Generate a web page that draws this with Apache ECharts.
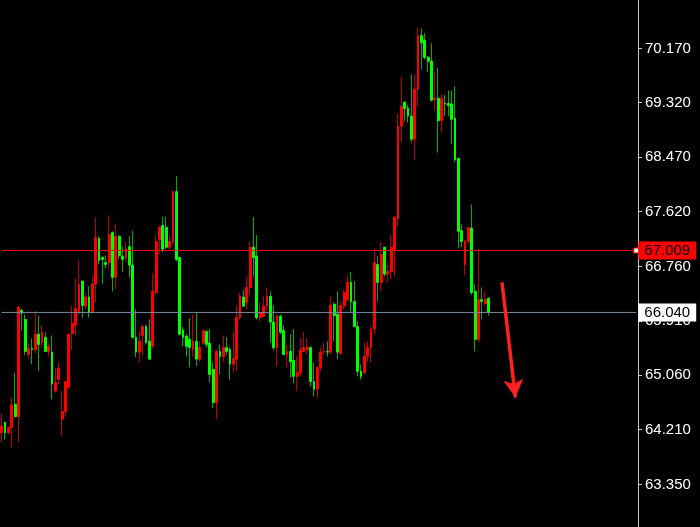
<!DOCTYPE html>
<html><head><meta charset="utf-8">
<script src="https://cdn.jsdelivr.net/npm/echarts@6/dist/echarts.min.js"></script>
<style>html,body{margin:0;padding:0;background:#000}#c{width:700px;height:527px}</style>
</head><body><div id="c"></div>
<script>
// OHLC values
const opens  = [64.16,64.32,64.16,64.24,64.60,64.41,66.07,65.93,65.38,65.48,65.46,65.70,65.57,65.65,65.43,65.42,64.81,64.99,64.37,64.49,
64.87,65.71,65.84,66.06,66.53,66.14,66.28,66.04,66.48,67.20,66.90,66.82,66.82,67.29,66.59,67.23,66.92,66.89,67.07,66.78,
65.65,65.42,65.68,65.82,65.59,65.51,66.35,67.18,67.40,67.37,67.06,67.15,67.93,66.90,65.76,65.67,65.62,65.46,65.59,65.31,
65.56,65.74,65.56,65.15,64.63,65.43,65.35,65.49,65.46,65.23,65.31,65.96,66.28,66.20,66.43,67.06,66.92,65.96,65.98,66.14,
66.29,65.89,65.49,65.98,65.76,65.38,65.43,65.29,65.04,65.10,65.43,65.46,65.49,64.96,64.84,65.18,65.42,65.43,65.42,66.17,
66.01,65.40,66.14,66.24,66.51,66.21,65.82,65.12,65.10,65.35,65.49,65.78,66.79,66.51,67.06,66.64,66.68,67.03,67.51,68.95,
69.33,69.23,69.11,68.75,69.53,70.37,70.30,70.03,69.97,69.37,69.39,69.04,69.31,69.31,69.30,69.08,68.45,67.32,66.79,67.15,
67.36,66.37,65.62,66.24,66.18,66.26];
const closes = [64.26,64.16,64.24,64.59,64.41,66.12,66.03,65.43,65.48,65.46,65.70,65.54,65.73,65.43,65.51,64.92,64.95,65.17,64.49,64.96,
65.70,65.87,66.10,66.48,66.15,66.28,66.04,66.48,67.21,66.85,66.87,66.79,67.26,66.59,67.23,66.93,66.87,67.04,66.78,65.65,
65.42,65.59,65.82,65.57,65.31,66.37,67.15,67.37,67.03,67.06,67.15,67.93,66.87,65.70,65.65,65.51,65.49,65.59,65.31,65.49,
65.76,65.54,65.07,64.63,65.43,65.35,65.49,65.43,65.23,65.32,65.96,66.29,66.14,66.43,67.06,66.90,65.96,66.04,66.14,66.29,
65.89,65.49,65.98,65.73,65.38,65.43,65.27,65.04,65.10,65.45,65.49,65.49,64.96,64.84,65.18,65.42,65.43,65.42,66.15,65.99,
65.42,66.15,66.35,66.51,66.21,65.82,65.12,65.04,65.35,65.49,65.78,66.82,66.51,66.95,66.64,66.68,67.06,67.53,68.95,69.26,
69.23,69.11,68.75,69.53,70.37,70.26,70.03,69.97,69.36,69.39,69.04,69.39,69.30,69.28,69.06,68.43,67.31,67.15,67.15,67.37,
66.35,65.62,66.24,66.21,66.24,66.04];
const lows   = [64.01,64.05,64.13,63.93,64.40,64.01,65.76,65.37,65.32,65.23,65.40,65.12,65.49,65.42,65.35,64.68,64.79,64.92,64.10,64.41,
64.84,65.45,65.68,66.01,65.96,66.09,65.96,66.03,66.20,66.79,66.49,66.73,66.73,66.37,66.40,66.87,66.68,66.84,66.59,65.63,
65.34,65.26,65.37,65.54,65.29,65.48,66.31,66.95,66.98,67.03,67.03,67.10,66.84,65.68,65.51,65.35,65.18,65.35,65.20,65.27,
65.54,65.49,64.95,64.54,64.37,65.07,65.27,65.38,64.99,65.10,65.12,65.93,66.12,66.09,66.32,66.60,65.93,65.90,65.98,66.06,
65.57,65.45,65.20,65.70,65.38,65.18,65.02,64.93,64.81,65.04,65.42,65.38,64.88,64.73,64.71,65.12,65.38,65.35,65.38,65.59,
65.31,65.37,66.09,66.20,66.04,65.81,65.04,64.99,65.07,65.26,65.26,65.70,66.21,66.37,66.60,66.51,66.56,66.60,67.39,68.70,
69.03,69.01,68.70,68.43,69.26,69.84,70.00,69.80,69.34,69.19,68.54,68.86,69.11,69.11,68.67,68.39,67.04,67.06,66.62,67.12,
66.32,65.43,65.57,65.93,66.14,65.99];
const highs  = [64.45,64.33,64.26,64.71,65.10,66.14,66.10,66.01,65.57,65.63,66.06,65.99,65.84,65.73,65.57,65.68,65.18,65.27,64.81,64.96,
65.71,66.15,66.57,66.85,66.53,66.35,66.45,66.60,67.53,67.23,66.92,66.93,67.56,67.31,67.43,67.25,67.07,67.14,67.23,67.32,
66.09,65.73,65.85,65.85,65.93,66.65,67.25,67.39,67.54,67.54,67.25,67.93,68.17,66.90,65.81,65.70,65.95,66.01,66.04,65.59,
65.76,65.76,65.78,65.26,65.46,65.54,65.68,65.65,65.49,65.73,66.15,66.35,66.39,66.60,67.15,67.53,67.25,66.20,66.29,66.43,
66.37,66.15,66.01,66.01,65.84,65.54,65.70,65.78,65.35,65.64,65.74,65.64,65.51,65.26,65.20,65.49,65.57,65.59,66.29,66.20,
66.37,66.20,66.40,66.62,66.67,66.53,65.90,65.23,65.57,65.59,65.82,67.04,66.92,67.14,67.07,66.82,67.25,67.54,69.15,69.73,
69.34,69.29,69.76,69.76,70.50,70.48,70.41,70.05,70.25,69.80,69.87,69.45,69.44,69.51,69.51,69.58,68.45,67.42,67.18,67.37,
67.73,66.48,67.03,66.43,66.37,66.28];
const yTickValues = [63.35, 64.21, 65.06, 65.91, 66.76, 67.62, 68.47, 69.32, 70.17];
const resistanceLevel = 67.009;
const lastPrice = 66.040;
const arrowFrom = [149, 66.51];
const arrowTo = [153, 64.71];
const slotCount = 190;

const categories = Array.from({length: slotCount}, (_, i) => String(i));
const wickData = opens.map((o, i) => [o, closes[i], lows[i], highs[i]]);
const bodyData = opens.map((o, i) => [o, closes[i], Math.min(o, closes[i]), Math.max(o, closes[i])]);

const chart = echarts.init(document.getElementById('c'));
const font = 'Liberation Sans';
const levelLabel = (text, bg) => ({show: true, formatter: text, distance: 2, offset: [0, 0],
  backgroundColor: bg, color: '#000', fontSize: 15, fontFamily: font, lineHeight: 16, padding: [1, 6, 1, 6]});
const levelSeries = (name, level, color, endSymbol, bg) => ({
  type: 'line', name, silent: true, z: 4, animation: false,
  data: [{value: [0, level], symbol: 'none'},
         {value: [slotCount - 1, level], symbol: endSymbol, symbolSize: 5}],
  showSymbol: true, showAllSymbol: true,
  lineStyle: {color, width: 1, type: 'solid'},
  itemStyle: {color: '#ffffff', borderColor: color, borderWidth: 1},
  endLabel: levelLabel(level.toFixed(3), bg),
  emphasis: {disabled: true}
});
chart.setOption({
  backgroundColor: '#000',
  animation: false,
  grid: {left: 0, right: 62, top: 0, bottom: 0},
  xAxis: {type: 'category', data: categories, boundaryGap: true, show: false},
  yAxis: {
    type: 'value', position: 'right', min: 62.684, max: 70.927,
    splitLine: {show: false},
    axisLine: {show: true, lineStyle: {color: '#c8c8c8', width: 1}},
    axisTick: {show: true, length: 4, lineStyle: {color: '#c8c8c8'}, customValues: yTickValues},
    axisLabel: {show: true, color: '#ffffff', fontSize: 15, fontFamily: font, margin: 7,
      customValues: yTickValues, formatter: v => v.toFixed(3)}
  },
  series: [
    levelSeries('lastPrice', lastPrice, '#778899', 'none', '#ffffff'),
    levelSeries('resistance', resistanceLevel, '#ff0000', 'rect', '#ff0000'),
    {
      type: 'candlestick', name: 'wick', data: wickData, barWidth: 1, silent: true, z: 2,
      itemStyle: {color: '#c00000', color0: '#00b000', borderColor: '#c00000', borderColor0: '#00b000', borderWidth: 1},
      markLine: {
        silent: true, symbol: ['none', 'arrow'], symbolSize: [15, 18],
        lineStyle: {color: '#ff2020', width: 3.5, type: 'solid'},
        label: {show: false},
        data: [[{coord: arrowFrom}, {coord: arrowTo}]]
      }
    },
    {
      type: 'candlestick', name: 'body', data: bodyData, barWidth: 2.3, silent: true, z: 3,
      itemStyle: {color: '#ff0000', color0: '#00ff00', borderColor: '#ff0000', borderColor0: '#00ff00', borderWidth: 1}
    }
  ]
});
</script></body></html>
